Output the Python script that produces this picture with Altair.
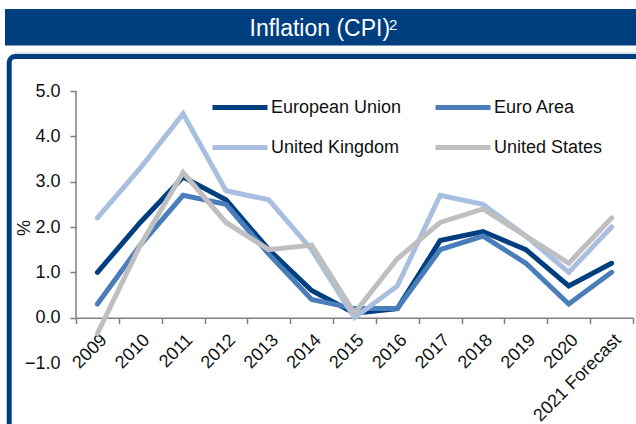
import altair as alt
import pandas as pd

# ---- data ----
years = ["2009", "2010", "2011", "2012", "2013", "2014", "2015", "2016",
         "2017", "2018", "2019", "2020", "2021 Forecast"]
series_names = ["European Union", "Euro Area", "United Kingdom", "United States"]
eu = [1.0, 2.1, 3.1, 2.6, 1.5, 0.6, 0.1, 0.2, 1.7, 1.9, 1.5, 0.7, 1.2]
ea = [0.3, 1.6, 2.7, 2.5, 1.4, 0.4, 0.2, 0.2, 1.5, 1.8, 1.2, 0.3, 1.0]
uk = [2.2, 3.3, 4.5, 2.8, 2.6, 1.5, 0.0, 0.7, 2.7, 2.5, 1.8, 1.0, 2.0]
us = [-0.35, 1.6, 3.2, 2.1, 1.5, 1.6, 0.1, 1.3, 2.1, 2.4, 1.8, 1.2, 2.2]
y_ticks = [-1, 0, 1, 2, 3, 4, 5]
title_main = "Inflation (CPI)"
title_sup = "2"
y_title = "%"

colors = ["#003F7F", "#4A7EBB", "#A9BFDF", "#BFBFBF"]
NAVY = "#003F7F"
AXIS = "#7F7F7F"
FONT = "Liberation Sans"

rows = []
for name, vals in zip(series_names, [eu, ea, uk, us]):
    for yr, v in zip(years, vals):
        rows.append({"year": yr, "series": name, "value": v})
df = pd.DataFrame(rows)

# ---- layout ----
PAD_L, PAD_T, PAD_R, PAD_B = 76, 91, 3, 61
W, H = 636 - PAD_L - PAD_R, 424 - PAD_T - PAD_B
ymin, ymax = -1, 5
zero_offset = -H * (0 - ymin) / (ymax - ymin)

one = alt.Data(values=[{}])

yscale = alt.Scale(domain=[ymin, ymax], nice=False, zero=False)

lines = alt.Chart(df).mark_line(strokeWidth=5, strokeCap="round").encode(
    x=alt.X("year:N", sort=years,
            scale=alt.Scale(type="band", paddingInner=0, paddingOuter=0),
            axis=alt.Axis(title=None, labelAngle=-45, labelAlign="right",
                          labelBaseline="top", labelFontSize=18, labelFont=FONT,
                          labelColor="#111111", labelPadding=7,
                          tickBand="extent", tickSize=6, tickColor=AXIS,
                          tickWidth=1.5, domainColor=AXIS, domainWidth=1.5,
                          offset=zero_offset, grid=False, labelOverlap=False)),
    y=alt.Y("value:Q", scale=yscale,
            axis=alt.Axis(values=y_ticks, format=".1f", title=y_title,
                          titleFontSize=18, titleFont=FONT, titleFontWeight="normal",
                          titleColor="#111111", titleAngle=-90,
                          titleX=-51.5, titleY=136.5, titleAlign="center",
                          titleBaseline="middle",
                          labelFontSize=18, labelFont=FONT, labelColor="#111111",
                          labelPadding=10, tickSize=6, tickColor=AXIS, tickWidth=1.5,
                          tickOpacity=alt.condition("datum.value < 0", alt.value(0), alt.value(1)),
                          domain=False, grid=False)),
    color=alt.Color("series:N", sort=series_names,
                    scale=alt.Scale(domain=series_names, range=colors),
                    legend=alt.Legend(orient="none", legendX=134, legendY=-13.5,
                                      direction="horizontal",
                                      columns=2, title=None, padding=0,
                                      symbolType="stroke", symbolStrokeWidth=5,
                                      symbolSize=3025, labelOffset=1,
                                      labelFontSize=18, labelFont=FONT,
                                      labelColor="#111111", columnPadding=23,
                                      rowPadding=-20.5, labelLimit=300)),
    order=alt.Order("series:N"),
)

y_domain_line = alt.Chart(one).mark_rule(color=AXIS, strokeWidth=1.5).encode(
    x=alt.value(0), y=alt.datum(0, scale=yscale), y2=alt.datum(5)
)

banner = alt.Chart(one).mark_rect(color=NAVY).encode(
    x=alt.value(5 - PAD_L), x2=alt.value(700), y=alt.value(9 - PAD_T), y2=alt.value(45.5 - PAD_T)
)
banner_text = alt.Chart(one).mark_text(color="white", fontSize=23, font=FONT,
                                       align="left", baseline="alphabetic").encode(
    x=alt.value(249.5 - PAD_L), y=alt.value(35.7 - PAD_T), text=alt.value(title_main)
)
banner_sup = alt.Chart(one).mark_text(color="white", fontSize=15, font=FONT,
                                      align="left", baseline="alphabetic").encode(
    x=alt.value(389 - PAD_L), y=alt.value(29.5 - PAD_T), text=alt.value(title_sup)
)
frame = alt.Chart(one).mark_rect(filled=False, stroke=NAVY, strokeWidth=5,
                                 cornerRadius=6).encode(
    x=alt.value(9.2 - PAD_L), x2=alt.value(800), y=alt.value(56.5 - PAD_T), y2=alt.value(600)
)
frame_hl = alt.Chart(one).mark_rule(color="#C9D3E0", strokeWidth=1.2).encode(
    x=alt.value(14 - PAD_L), x2=alt.value(700), y=alt.value(52.8 - PAD_T)
)

chart = alt.layer(banner, banner_text, banner_sup, frame_hl, frame, y_domain_line, lines).properties(
    width=W, height=H,
    autosize=alt.AutoSizeParams(type="none"),
    padding={"left": PAD_L, "top": PAD_T, "right": PAD_R, "bottom": PAD_B},
    background="white",
).configure_view(stroke="transparent")

chart.save("out.html", embed_options={"renderer": "svg", "actions": False})
